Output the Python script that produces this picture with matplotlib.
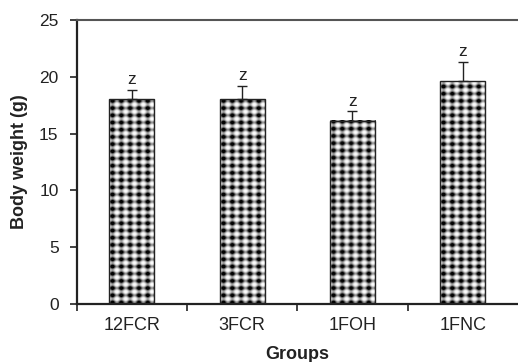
import matplotlib.pyplot as plt
import numpy as np

plt.rcParams['font.family'] = ['Liberation Sans', 'DejaVu Sans']

groups = ["12FCR", "3FCR", "1FOH", "1FNC"]
weights = [18.0, 18.0, 16.1, 19.6]
errors = [0.85, 1.2, 0.85, 1.7]
letters = ["z", "z", "z", "z"]

fig = plt.figure(figsize=(5.18, 3.62), dpi=100)
ax = fig.add_axes([0.148, 0.160, 0.852, 0.785])
ax.set_xlim(-0.5, 3.5)
ax.set_ylim(0, 25)

x = np.arange(len(groups))
bars = ax.bar(x, weights, width=0.41, facecolor="none", edgecolor="#222222",
              linewidth=1.0, zorder=3)

# dotted "checker" fill, drawn per bar in pixel units and clipped to the bar
for b in bars:
    (x0, y0), (x1, y1) = ax.transData.transform([(b.get_x(), 0),
                                                 (b.get_x() + b.get_width(), b.get_height())])
    w, h = int(round(x1 - x0)), int(round(y1 - y0))
    px = np.arange(w) + 0.5 - 3.5
    py = np.arange(h) + 0.5 - 1.5
    gx = 0.5 + 0.5 * np.cos(2 * np.pi * px / 8.6)
    gy = 0.5 + 0.5 * np.cos(2 * np.pi * py / 7.2)
    g = (gx[None, :] + gy[:, None]) / 2
    dark = np.clip(g ** 1.7 * 1.3, 0, 1)
    ax.imshow(dark, cmap="gray_r", vmin=0, vmax=1, interpolation="bilinear",
              extent=(b.get_x(), b.get_x() + b.get_width(), b.get_height(), 0),
              aspect="auto", zorder=2, clip_path=b, clip_on=True)

ax.errorbar(x, weights, yerr=[np.zeros(len(errors)), errors], fmt="none",
            ecolor="#222222", elinewidth=1.0, capsize=3.6, capthick=1.0, zorder=3)
for xi, wv, e, s in zip(x, weights, errors, letters):
    ax.text(xi, wv + e + 0.5, s, ha="center", va="baseline", fontsize=12.5, color="#222222")

ax.set_xlim(-0.5, 3.5)
ax.set_ylim(0, 25)
ax.set_yticks([0, 5, 10, 15, 20, 25])
ax.set_xticks(x)
ax.set_xticklabels(groups)
ax.set_xticks(np.arange(-0.5, 3.5, 1), minor=True)
ax.tick_params(axis="x", which="major", length=0, labelsize=13, pad=9, colors="#222222")
ax.tick_params(axis="x", which="minor", length=5, direction="out", color="#222222", width=1.2)
ax.tick_params(axis="y", length=5, direction="out", labelsize=12.5, pad=8,
               color="#222222", labelcolor="#222222", width=1.2)

ax.spines["right"].set_visible(False)
ax.spines["top"].set_color("#555555")
ax.spines["top"].set_linewidth(1.5)
for sp in ["left", "bottom"]:
    ax.spines[sp].set_color("#222222")
    ax.spines[sp].set_linewidth(1.6)

ax.set_ylabel("Body weight (g)", fontsize=13, fontweight="bold", labelpad=8, color="#222222")
ax.set_xlabel("Groups", fontsize=13, fontweight="bold", labelpad=9, color="#222222")

fig.savefig("out.png", dpi=100)
